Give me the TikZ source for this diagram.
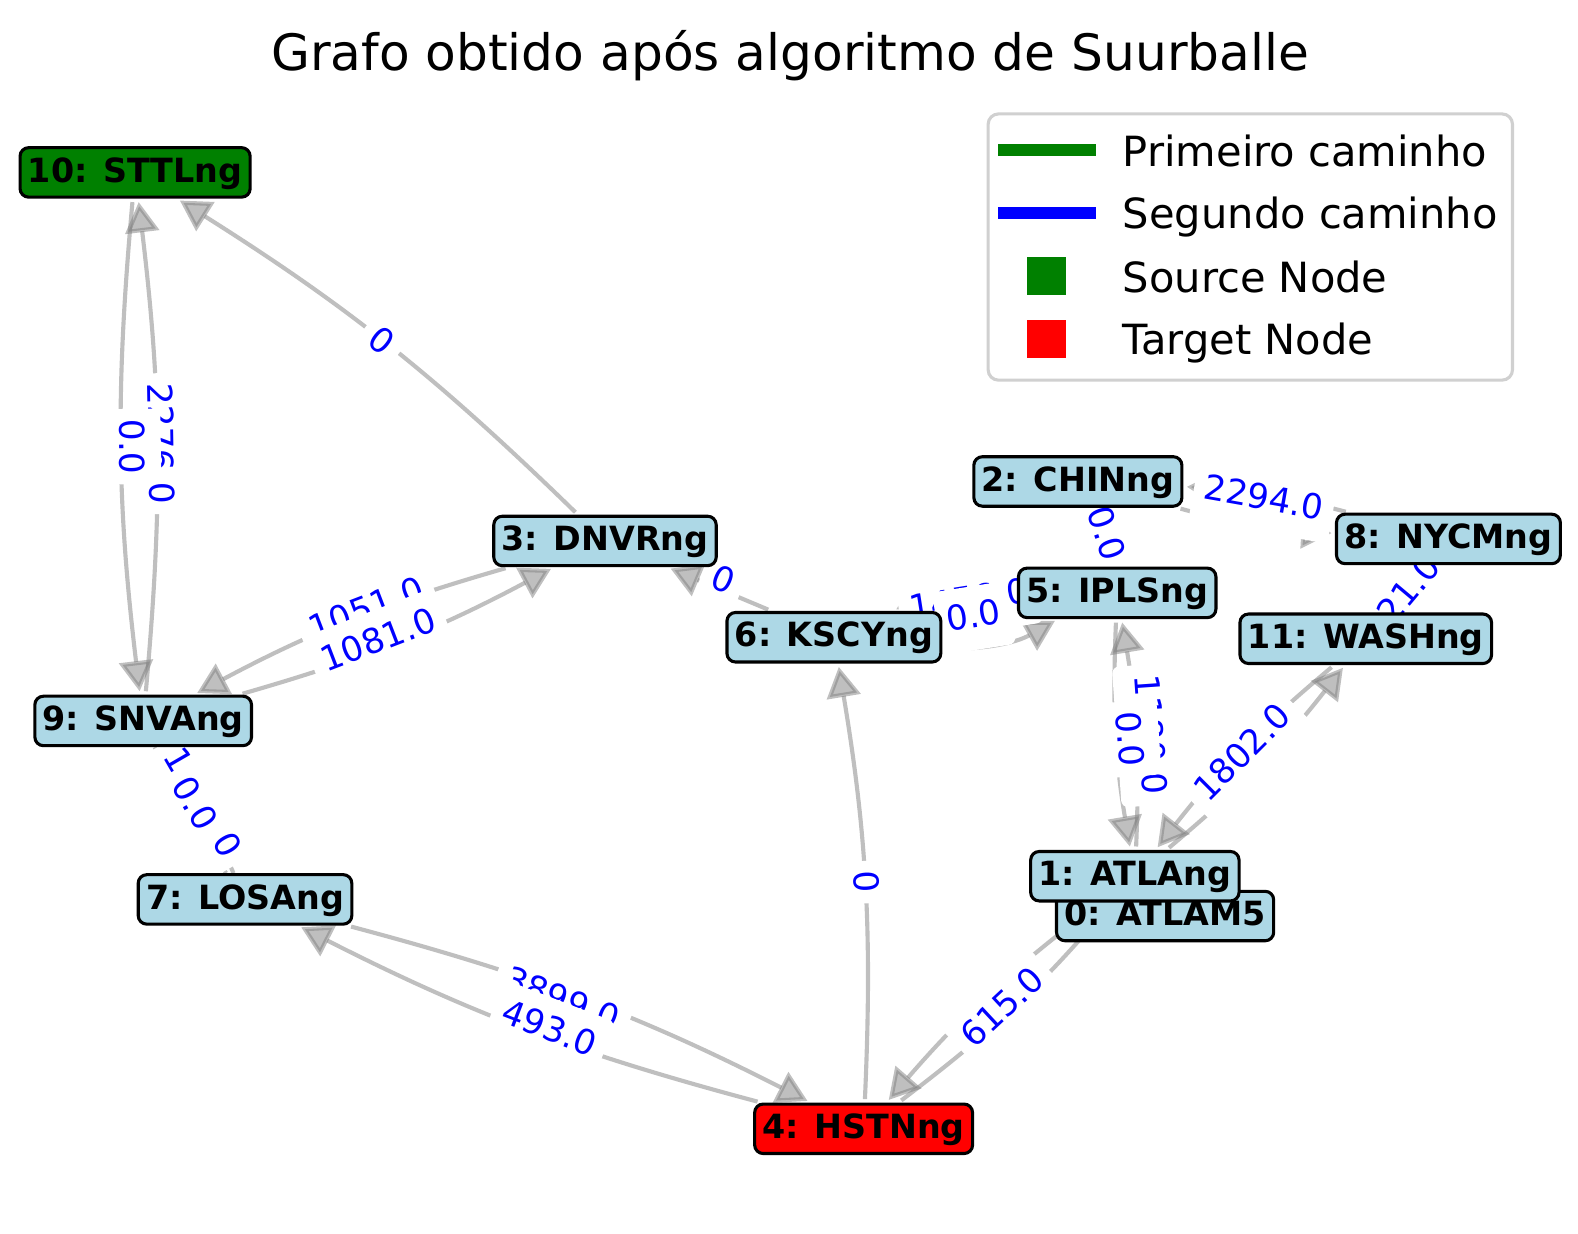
\documentclass[tikz,border=0pt]{standalone}
\usepackage{fontspec}
\setmainfont{DejaVu Sans}
\usetikzlibrary{arrows.meta}
\definecolor{nodeblue}{HTML}{ADD8E6}
\definecolor{mgreen}{HTML}{008000}
\definecolor{mred}{HTML}{FF0000}
\definecolor{mblue}{HTML}{0000FF}
\definecolor{edgegray}{HTML}{808080}
\definecolor{legframe}{HTML}{D0D0D0}
\pgfdeclarelayer{bg}
\pgfdeclarelayer{edges}
\pgfdeclarelayer{labels}
\pgfsetlayers{bg,edges,labels,main}
\begin{document}
\begin{tikzpicture}[x=0.2934pt,y=-0.2934pt,
  gnode/.style={draw=black, line width=0.9pt, rounded corners=2.5pt, fill=nodeblue,
     font=\fontsize{9.7}{12}\selectfont\bfseries, inner xsep=2.3pt, inner ysep=0pt,
     minimum height=14.4pt, text height=7.8pt, text depth=2.2pt},
  edge/.style={draw=edgegray, opacity=0.5, line width=1.2pt,
     -{Triangle[length=8.8pt,width=9.8pt]}, shorten >=1pt, shorten <=1pt},
  hid/.style={draw=edgegray, opacity=0.5, line width=1.2pt},
  elab/.style={fill=white, text=mblue, font=\fontsize{10}{12}\selectfont,
     inner xsep=3pt, inner ysep=4pt, text height=8pt, text depth=2.5pt, rounded corners=2pt},
  legtext/.style={anchor=base west, font=\fontsize{12.1}{14}\selectfont, inner sep=0pt}
]
\useasboundingbox (0,0) rectangle (1565,1223);
\begin{pgfonlayer}{bg}
\fill[white] (0,0) rectangle (1578,1233);
\end{pgfonlayer}

% title
\node[font=\fontsize{14.6}{17}\selectfont, anchor=base, inner sep=0pt] (title) at (783.5,70) {Grafo obtido após algoritmo de Suurballe};

% nodes
\node[gnode, fill=mgreen] (n10) at (134,171) {10: STTLng};
\node[gnode] (n3) at (600,536.5) {3: DNVRng};
\node[gnode] (n2) at (1069,477.5) {2: CHINng};
\node[gnode] (n8) at (1436.5,534.5) {8: NYCMng};
\node[gnode] (n5) at (1108,588) {5: IPLSng};
\node[gnode] (n6) at (827,632) {6: KSCYng};
\node[gnode] (n11) at (1354.5,633.5) {11: WASHng};
\node[gnode] (n9) at (142,715) {9: SNVAng};
\node[gnode] (n7) at (243,892) {7: LOSAng};
\node[gnode] (n0) at (1155.5,908.5) {0: ATLAM5};
\node[gnode] (n1) at (1125.5,869) {1: ATLAng};
\node[gnode, fill=mred] (n4) at (856.5,1119.5) {4: HSTNng};

% edges
\begin{pgfonlayer}{edges}
\draw[edge] (n10) to[bend right=6] (n9);
\draw[edge] (n9) to[bend right=6] (n10);
\draw[edge] (n3) to[bend right=6] (n10);
\draw[edge] (n3) to[bend right=6] (n9);
\draw[edge] (n9) to[bend right=6] (n3);
\draw[edge] (n6) -- (n3);
\draw[edge] (n5) to[bend right=15] (n6);
\draw[edge] (n6) to[bend right=15] (n5);
\draw[hid] (n2) to[bend right=6] (n5);
\draw[hid] (n5) to[bend right=6] (n2);
\draw[edge] (n2) to[bend right=6] (n8);
\draw[edge] (n8) to[bend right=6] (n2);
\draw[hid] (n8) to[bend right=6] (n11);
\draw[hid] (n11) to[bend right=6] (n8);
\draw[edge] (n5) to[bend right=6] (n1);
\draw[edge] (n1) to[bend right=6] (n5);
\draw[edge] (n1) to[bend right=6] (n11);
\draw[edge] (n11) to[bend right=6] (n1);
\draw[edge] (n1) to[bend right=6] (n4);
\draw[edge] (n4) to[bend right=6] (n1);
\draw[edge] (n4) to[bend right=6] (n6);
\draw[edge] (n7) to[bend left=6] (n4);
\draw[edge] (n4) to[bend left=6] (n7);
\draw[hid] (n9) to[bend right=6] (n7);
\draw[hid] (n7) to[bend right=6] (n9);
\end{pgfonlayer}

% edge labels
\begin{pgfonlayer}{labels}
\node[elab, rotate=-89] (l9x10) at (157,440) {2276.0};
\node[elab, rotate=-89] (l10x9) at (128,443) {0.0};
\node[elab, rotate=-38] (l3x10) at (377,340) {0};
\node[elab, rotate=21] (l3x9) at (364,606) {1051.0};
\node[elab, rotate=21] (l9x3) at (376,637) {1081.0};
\node[elab, rotate=-23] (l6x3) at (716,577) {0};
\node[elab, rotate=9] (l5x6) at (961,597) {1456.0};
\node[elab, rotate=9] (l6x5) at (966,613) {0.0};
\node[elab, rotate=-71] (l2x5) at (1095,530) {0.0};
\node[elab, rotate=-10] (l8x2) at (1253,496) {2294.0};
\node[elab, rotate=50] (l8x11) at (1385,603) {1421.0};
\node[elab, rotate=-86] (l1x5) at (1139,729) {1180.0};
\node[elab, rotate=-86] (l5x1) at (1118,733) {0.0};
\node[elab, rotate=45] (l1x11) at (1234,748) {1802.0};
\node[elab, rotate=43] (l4x1) at (996,1001) {615.0};
\node[elab, rotate=-87] (l4x6) at (856,875) {0};
\node[elab, rotate=-60] (l7x9) at (199,797) {1550.0};
\node[elab, rotate=-60] (l9x7) at (191,798) {0.0};
\node[elab, rotate=-21] (l7x4) at (557,993) {3899.0};
\node[elab, rotate=-21] (l4x7) at (544,1022) {493.0};
\end{pgfonlayer}

% legend
\draw[legframe, line width=0.9pt, rounded corners=3pt, fill=white] (980,113) rectangle (1500,377);
\draw[mgreen, line width=3.6pt] (990,149) -- (1087,149);
\draw[mblue, line width=3.6pt] (990,211) -- (1087,211);
\fill[mgreen] (1019,255) rectangle (1057,293);
\fill[mred] (1019,317) rectangle (1057,355);
\node[legtext] (lg1) at (1113,165) {Primeiro caminho};
\node[legtext] (lg2) at (1113,227) {Segundo caminho};
\node[legtext] (lg3) at (1113,290) {Source Node};
\node[legtext] (lg4) at (1113,352) {Target Node};
\end{tikzpicture}
\end{document}
